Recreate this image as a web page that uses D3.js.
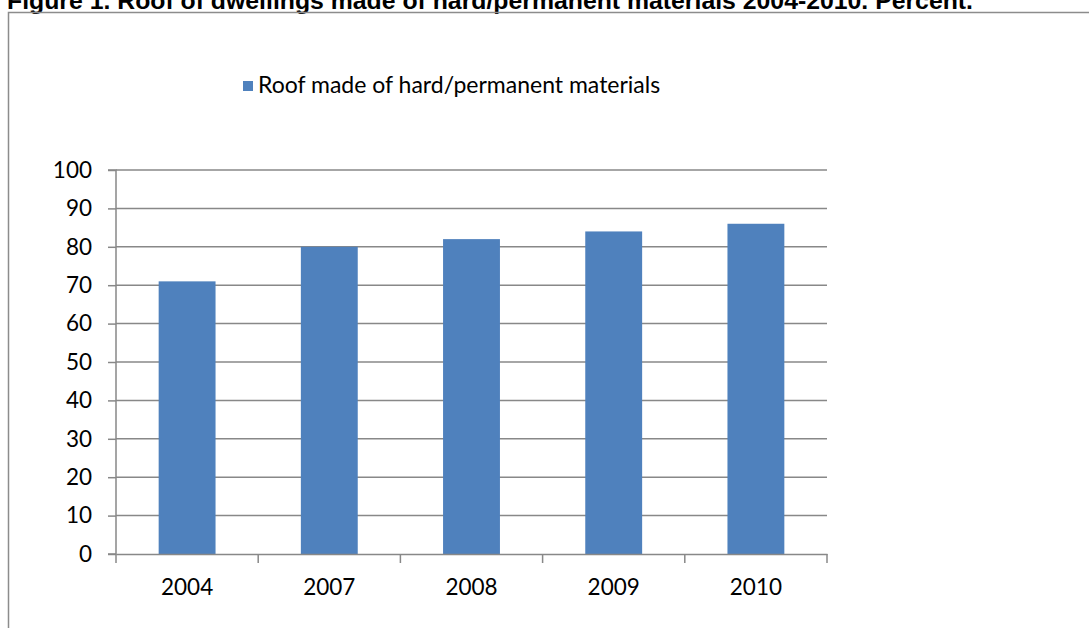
<!DOCTYPE html>
<html lang="en">
<head>
  <meta charset="UTF-8">
  <script src="https://d3js.org/d3.v7.min.js"></script>
  <style>
  body {
    margin:0;
    background-color:#fff;
    overflow:hidden;
  }
  .title {
    font-family: "Liberation Sans", Arial, sans-serif;
    font-weight: bold;
    font-size: 24.8px;
  }
  .tick text, .legend text {
    font-family: Lato, "Open Sans", sans-serif;
    fill: #000;
  }
  </style>
</head>
<body>
<svg id="chart" width="1089" height="628"></svg>
<script>
const years = ["2004", "2007", "2008", "2009", "2010"];
const roofValues = [71, 80, 82, 84, 86];
const yTicks = [0, 10, 20, 30, 40, 50, 60, 70, 80, 90, 100];
const seriesName = "Roof made of hard/permanent materials";

let svg = d3.select("#chart");

// title, its top half is cut off by the page edge as in the source document
svg.append("text")
  .attr("class", "title")
  .attr("x", 7)
  .attr("y", 9)
  .text("Figure 1. Roof of dwellings made of hard/permanent materials 2004-2010. Percent.");

// outer chart frame
svg.append("path")
  .attr("d", "M8.5,640 V12.5 H1100")
  .style("fill", "none")
  .style("stroke", "#8c8c8c")
  .style("stroke-width", 1.5);

let plot = { left: 116, right: 827, top: 170, bottom: 554 };

let x = d3.scaleBand()
  .domain(years)
  .range([plot.left, plot.right])
  .paddingInner(0.6)
  .paddingOuter(0.3);

let y = d3.scaleLinear()
  .domain([0, 100])
  .range([plot.bottom, plot.top]);

// gridlines
svg.append("g")
  .selectAll("line")
  .data(yTicks.filter(d => d > 0))
  .enter()
  .append("line")
  .attr("x1", plot.left)
  .attr("x2", plot.right)
  .attr("y1", d => y(d))
  .attr("y2", d => y(d))
  .style("stroke", "#888")
  .style("stroke-width", 1.5);

// bars
svg.append("g")
  .selectAll("rect")
  .data(roofValues)
  .enter()
  .append("rect")
  .attr("x", (d, i) => x(years[i]))
  .attr("width", x.bandwidth())
  .attr("y", d => y(d))
  .attr("height", d => y(0) - y(d))
  .style("fill", "#4f81bd");

// y axis
let yAxis = svg.append("g")
  .attr("transform", "translate(" + plot.left + ",0)")
  .call(d3.axisLeft(y).tickValues(yTicks).tickSize(8).tickPadding(16));
yAxis.selectAll("text").style("font-size", "22.5px");

// x axis, ticks sit between categories
let xAxis = svg.append("g")
  .attr("transform", "translate(0," + plot.bottom + ")")
  .call(d3.axisBottom(x).tickSize(0).tickPadding(25));
xAxis.selectAll("text").style("font-size", "22.5px");
xAxis.selectAll(".sep")
  .data(d3.range(years.length + 1))
  .enter()
  .append("line")
  .attr("class", "sep")
  .attr("x1", i => plot.left + i * x.step())
  .attr("x2", i => plot.left + i * x.step())
  .attr("y1", 0)
  .attr("y2", 9)
  .style("stroke", "#888")
  .style("stroke-width", 1.5);

svg.selectAll(".domain")
  .style("stroke", "#888")
  .style("stroke-width", 1.5);
yAxis.select(".domain").attr("d", "M-8," + plot.top + "H0V" + plot.bottom + "H-8");
svg.selectAll(".tick line").style("stroke", "#888").style("stroke-width", 1.5);

// legend
let legend = svg.append("g").attr("class", "legend")
  .attr("transform", "translate(243,78)");
legend.append("rect")
  .attr("width", 10)
  .attr("height", 10)
  .attr("y", 3)
  .style("fill", "#4f81bd");
legend.append("text")
  .attr("x", 15)
  .attr("y", 15)
  .style("font-size", "23px")
  .text(seriesName);
</script>
</body>
</html>
